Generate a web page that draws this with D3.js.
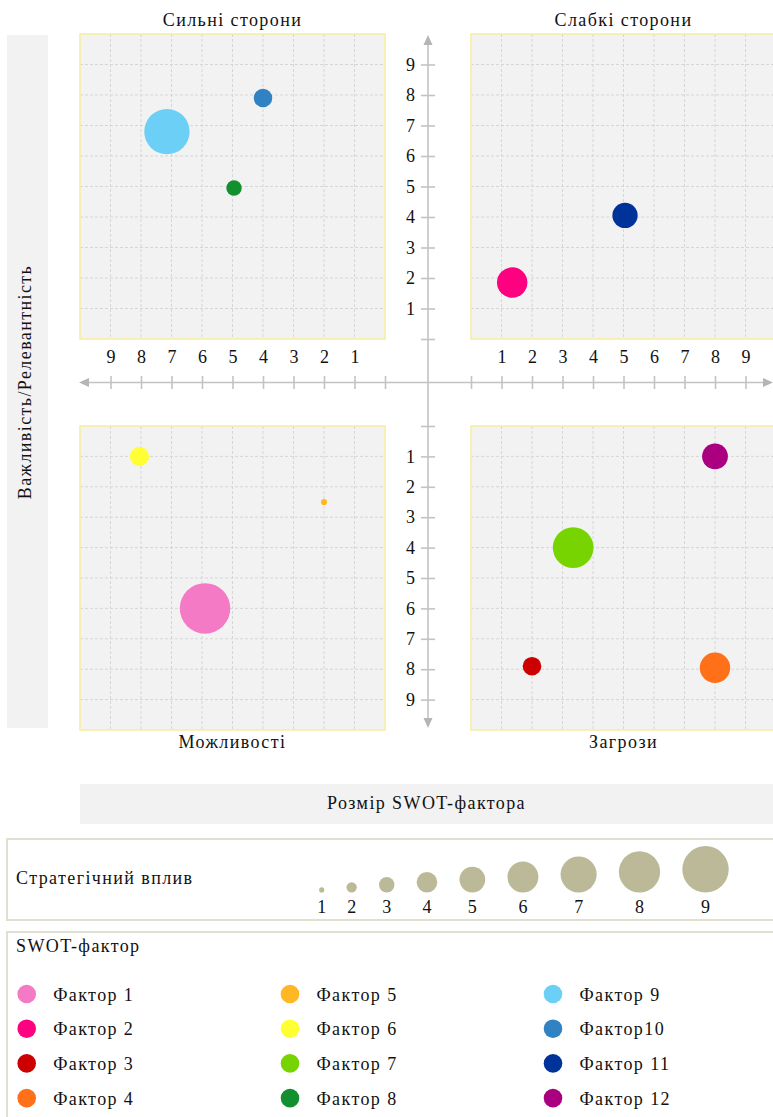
<!DOCTYPE html>
<html>
<head>
<meta charset="utf-8">
<script src="https://cdn.jsdelivr.net/npm/d3@7"></script>
<style>
  html, body { margin: 0; padding: 0; background: #fff; }
  svg { display: block; }
  svg text { font-family: "Times New Roman", "Liberation Serif", Tinos, "DejaVu Serif", serif !important; fill: #111; }
</style>
</head>
<body>
<svg id="chart" width="773" height="1117"></svg>
<script>
// ---------------- DATA ----------------
const factorNames = ["Фактор 1", "Фактор 2", "Фактор 3", "Фактор 4", "Фактор 5", "Фактор 6",
                     "Фактор 7", "Фактор 8", "Фактор 9", "Фактор10", "Фактор 11", "Фактор 12"];
const factorColors = ["#f57ac6", "#ff0080", "#cc0000", "#ff7019", "#ffb824", "#ffff33",
                      "#78d400", "#129030", "#6ccff5", "#3182c2", "#003399", "#aa0080"];
const factorQuadrant = ["O", "W", "T", "T", "O", "O", "T", "S", "S", "S", "W", "T"];
const factorX = [5.9, 1.35, 2.0, 8.0, 2.0, 8.05, 3.35, 4.95, 7.15, 4.0, 5.05, 8.0];
const factorY = [6.0, 1.85, 7.9, 7.95, 2.5, 1.0, 4.0, 4.95, 6.8, 7.9, 4.05, 1.0];
const factorSize = [9.8, 5.9, 3.6, 5.9, 1.2, 3.7, 7.9, 3.0, 8.8, 3.6, 4.9, 5.0];
const axisTicks = [0, 1, 2, 3, 4, 5, 6, 7, 8, 9];
const gridValues = [1, 2, 3, 4, 5, 6, 7, 8, 9];
const sizeLegendValues = [1, 2, 3, 4, 5, 6, 7, 8, 9];
const quadrantTitles = ["Сильні сторони", "Слабкі сторони", "Можливості", "Загрози"];
const yAxisTitle = "Важливість/Релевантність";
const xAxisTitle = "Розмір SWOT-фактора";
const sizeLegendTitle = "Стратегічний вплив";
const colorLegendTitle = "SWOT-фактор";

// ---------------- SCALES ----------------
const svg = d3.select("#chart");
const FS = 18, LS = "1.4px";
const FONT = "'Times New Roman', 'Liberation Serif', Tinos, 'DejaVu Serif', serif";

const xL = d3.scaleLinear().domain([10, 0]).range([80, 385]);
const xR = d3.scaleLinear().domain([0, 10]).range([471, 776]);
const yT = d3.scaleLinear().domain([0, 10]).range([339, 34]);
const yB = d3.scaleLinear().domain([0, 10]).range([426, 730]);
const rScale = d3.scaleLinear().domain([0, 9]).range([0, 23.2]);
const AX = 428, AY = 382.5;

const quads = {
  S: { x: xL, y: yT, title: quadrantTitles[0], top: true },
  W: { x: xR, y: yT, title: quadrantTitles[1], top: true },
  O: { x: xL, y: yB, title: quadrantTitles[2], top: false },
  T: { x: xR, y: yB, title: quadrantTitles[3], top: false }
};

// left vertical title box
svg.append("rect").attr("x", 7).attr("y", 35).attr("width", 41).attr("height", 693).attr("fill", "#f2f2f2");
svg.append("text").attr("transform", "translate(31,382) rotate(-90)")
  .attr("text-anchor", "middle").attr("font-size", FS).attr("letter-spacing", LS).text(yAxisTitle);

// ---------------- PANELS ----------------
Object.keys(quads).forEach(k => {
  const q = quads[k];
  const x0 = Math.min(...q.x.range()), x1 = Math.max(...q.x.range());
  const y0 = Math.min(...q.y.range()), y1 = Math.max(...q.y.range());
  const g = svg.append("g");
  g.append("rect").attr("x", x0).attr("y", y0).attr("width", x1 - x0).attr("height", y1 - y0)
    .attr("fill", "#f2f2f2");
  g.selectAll("line.v").data(gridValues).join("line")
    .attr("x1", d => q.x(d)).attr("x2", d => q.x(d)).attr("y1", y0).attr("y2", y1)
    .attr("stroke", "#d6d6d6").attr("stroke-width", 1).attr("stroke-dasharray", "3,2");
  g.selectAll("line.h").data(gridValues).join("line")
    .attr("y1", d => q.y(d)).attr("y2", d => q.y(d)).attr("x1", x0).attr("x2", x1)
    .attr("stroke", "#d6d6d6").attr("stroke-width", 1).attr("stroke-dasharray", "3,2");
  g.append("rect").attr("x", x0).attr("y", y0).attr("width", x1 - x0).attr("height", y1 - y0)
    .attr("fill", "none").attr("stroke", "#f7eea4").attr("stroke-width", 1.6);
  g.append("text").attr("x", (x0 + x1) / 2).attr("y", q.top ? 26 : 748)
    .attr("text-anchor", "middle").attr("font-size", FS).attr("letter-spacing", LS).text(q.title);
});

// ---------------- CENTRAL AXES ----------------
const axCol = "#c3c3c3";
svg.append("line").attr("x1", AX).attr("x2", AX).attr("y1", 42).attr("y2", 721)
  .attr("stroke", axCol).attr("stroke-width", 1.6);
svg.append("line").attr("x1", 86).attr("x2", 766).attr("y1", AY).attr("y2", AY)
  .attr("stroke", axCol).attr("stroke-width", 1.6);
// arrow heads
const arrows = [
  [[AX, 35], [AX - 4.5, 45], [AX + 4.5, 45]],
  [[AX, 728], [AX - 4.5, 718], [AX + 4.5, 718]],
  [[79, AY], [89, AY - 4.5], [89, AY + 4.5]],
  [[773, AY], [763, AY - 4.5], [763, AY + 4.5]]
];
svg.selectAll("path.arrow").data(arrows).join("path")
  .attr("d", d => "M" + d.map(p => p.join(",")).join("L") + "Z").attr("fill", "#b5b5b5");

const fmt = d => d === 0 ? "" : d;
function styleAxis(g) {
  g.attr("font-family", FONT);
  g.select(".domain").remove();
  g.selectAll(".tick line").attr("stroke", axCol).attr("stroke-width", 1.6);
  g.selectAll(".tick text").attr("font-size", FS).attr("fill", "#111");
}
// horizontal axis ticks + labels
[xL, xR].forEach(sc => {
  svg.append("g").attr("transform", `translate(0,${AY + 6.5})`)
    .call(d3.axisTop(sc).tickValues(axisTicks).tickSize(13).tickPadding(13).tickFormat(fmt))
    .call(styleAxis);
});
// vertical axis ticks + labels
[yT, yB].forEach(sc => {
  svg.append("g").attr("transform", `translate(${AX + 7},0)`)
    .call(d3.axisLeft(sc).tickValues(axisTicks).tickSize(14).tickPadding(6).tickFormat(fmt))
    .call(styleAxis);
});

// ---------------- BUBBLES ----------------
const bubbles = factorNames.map((n, i) => ({
  name: n, color: factorColors[i], q: quads[factorQuadrant[i]],
  x: factorX[i], y: factorY[i], s: factorSize[i]
})).sort((a, b) => b.s - a.s);
svg.append("g").selectAll("circle").data(bubbles).join("circle")
  .attr("cx", d => d.q.x(d.x)).attr("cy", d => d.q.y(d.y)).attr("r", d => rScale(d.s))
  .attr("fill", d => d.color);

// ---------------- X TITLE BOX ----------------
svg.append("rect").attr("x", 80).attr("y", 784).attr("width", 693).attr("height", 40).attr("fill", "#f2f2f2");
svg.append("text").attr("x", 426.5).attr("y", 808.5).attr("text-anchor", "middle")
  .attr("font-size", FS).attr("letter-spacing", LS).text(xAxisTitle);

// ---------------- SIZE LEGEND ----------------
svg.append("rect").attr("x", 7).attr("y", 839).attr("width", 780).attr("height", 81)
  .attr("fill", "#fff").attr("stroke", "#dfe0d0").attr("stroke-width", 2);
svg.append("text").attr("x", 16).attr("y", 884).attr("font-size", FS).attr("letter-spacing", LS).text(sizeLegendTitle);
const sizePos = [];
sizeLegendValues.forEach((v, i) => {
  if (i === 0) sizePos.push(321.7);
  else sizePos.push(sizePos[i - 1] + rScale(sizeLegendValues[i - 1]) + rScale(v) + 22.2);
});
const sl = svg.append("g").selectAll("g").data(sizeLegendValues).join("g")
  .attr("transform", (d, i) => `translate(${sizePos[i]},0)`);
sl.append("circle").attr("cy", d => 892.5 - rScale(d)).attr("r", d => rScale(d)).attr("fill", "#bcb998");
sl.append("text").attr("y", 913).attr("text-anchor", "middle").attr("font-size", FS).text(d => d);

// ---------------- COLOR LEGEND ----------------
svg.append("rect").attr("x", 7).attr("y", 932).attr("width", 780).attr("height", 200)
  .attr("fill", "#fff").attr("stroke", "#dfe0d0").attr("stroke-width", 2);
svg.append("text").attr("x", 16).attr("y", 952).attr("font-size", FS).attr("letter-spacing", LS).text(colorLegendTitle);
const colX = [26.7, 290, 553];
const cl = svg.append("g").selectAll("g").data(factorNames).join("g")
  .attr("transform", (d, i) => `translate(${colX[Math.floor(i / 4)]},${994 + (i % 4) * 34.7})`);
cl.append("circle").attr("r", 9.3).attr("fill", (d, i) => factorColors[i]);
cl.append("text").attr("x", 26.5).attr("y", 6.5).attr("font-size", FS).attr("letter-spacing", LS).text(d => d);
</script>
</body>
</html>
